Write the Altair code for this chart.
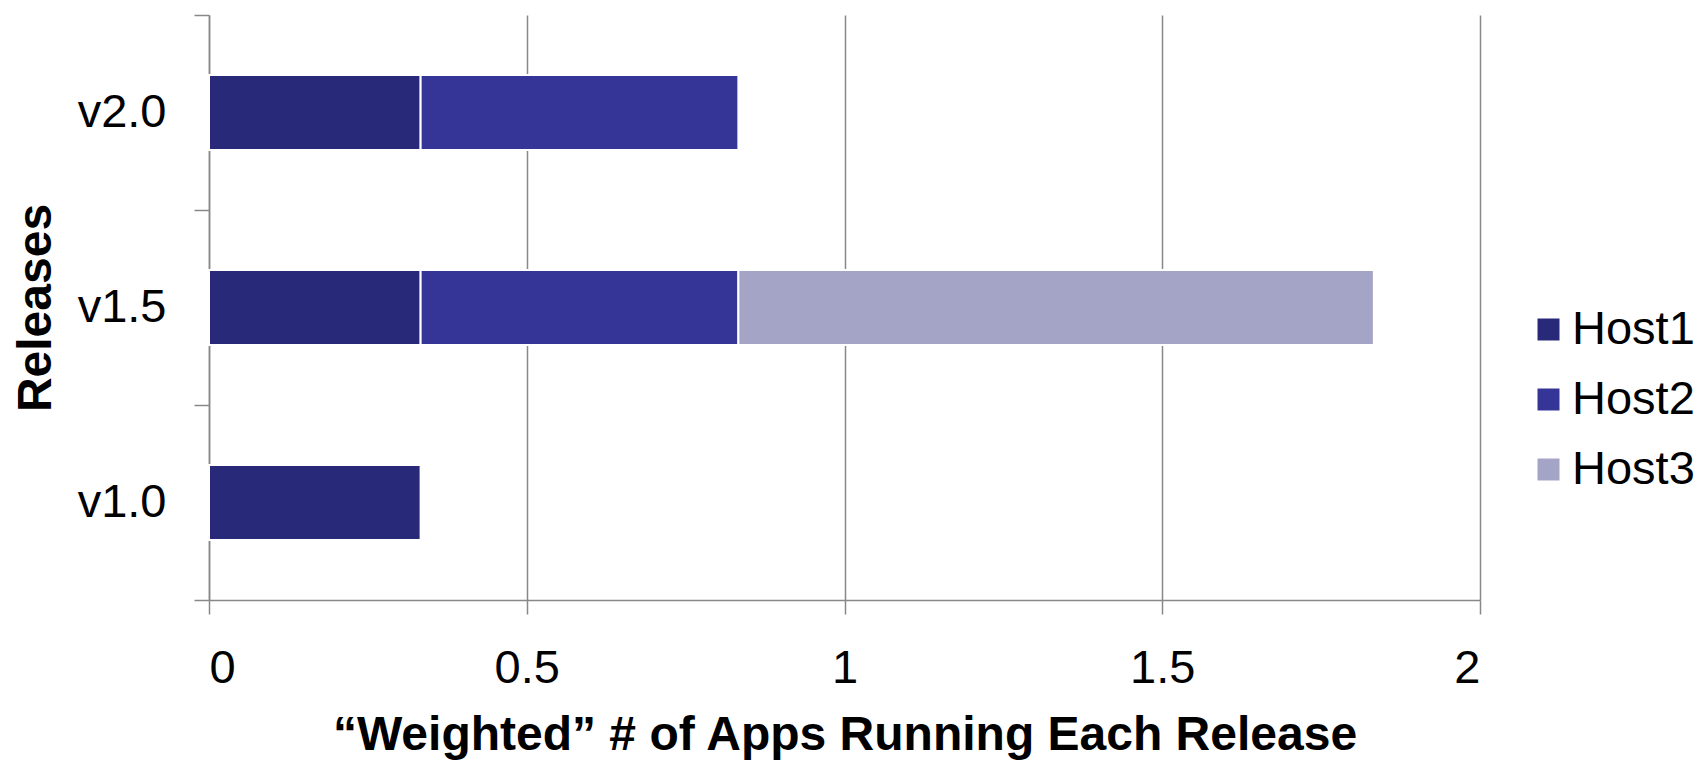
import altair as alt
import pandas as pd

releases = ["v2.0", "v1.5", "v1.0"]
hosts = ["Host1", "Host2", "Host3"]
host1 = [0.333, 0.333, 0.333]
host2 = [0.5, 0.5, 0.0]
host3 = [0.0, 1.0, 0.0]
colors = ["#29297A", "#353598", "#A4A4C6"]
x_ticks = [0, 0.5, 1, 1.5, 2]

rows = []
for i, r in enumerate(releases):
    for h, vals in zip(hosts, [host1, host2, host3]):
        if vals[i] > 0:
            rows.append({"Release": r, "Host": h, "Value": vals[i]})
df = pd.DataFrame(rows)

FONT = "Liberation Sans"

chart = alt.Chart(df).mark_bar(
    stroke="white", strokeWidth=2, height=alt.RelativeBandSize(0.385)
).encode(
    y=alt.Y(
        "Release:N",
        sort=releases,
        scale=alt.Scale(paddingInner=0, paddingOuter=0),
        axis=alt.Axis(
            title="Releases",
            titleFont=FONT,
            titleFontSize=48,
            titleFontWeight="bold",
            titleColor="black",
            titlePadding=17,
            labelFont=FONT,
            labelFontSize=47,
            labelColor="black",
            labelPadding=28,
            tickSize=15,
            tickColor="#888888",
            tickWidth=1.5,
            tickBand="extent",
            domainColor="#888888",
            domainWidth=1.5,
            grid=False,
        ),
    ),
    x=alt.X(
        "Value:Q",
        stack="zero",
        scale=alt.Scale(domain=[0, 2], nice=False),
        axis=alt.Axis(
            title="\u201cWeighted\u201d # of Apps Running Each Release",
            values=x_ticks,
            format="~g",
            titleFont=FONT,
            titleFontSize=48,
            titleFontWeight="bold",
            titleColor="black",
            titlePadding=20,
            labelFont=FONT,
            labelFontSize=47,
            labelColor="black",
            labelPadding=31,
            tickSize=14,
            tickColor="#888888",
            tickWidth=1.5,
            domainColor="#888888",
            domainWidth=1.5,
            grid=True,
            gridColor="#888888",
            gridWidth=1.5,
        ),
    ),
    color=alt.Color(
        "Host:N",
        scale=alt.Scale(domain=hosts, range=colors),
        legend=alt.Legend(
            title=None,
            orient="none",
            legendX=1316,
            legendY=291,
            symbolType="M-2,-2H2V2H-2Z",
            symbolSize=121,
            symbolStrokeWidth=0,
            symbolOffset=0,
            labelFont=FONT,
            labelFontSize=47,
            labelColor="black",
            labelOffset=0,
            rowPadding=22,
            padding=0,
        ),
    ),
    order=alt.Order("Host:N", sort="ascending"),
).properties(
    width=1271,
    height=585,
    autosize=alt.AutoSizeParams(type="none"),
    padding={"left": 201, "top": 7, "right": 217, "bottom": 163},
).configure_view(stroke=None)

chart.save("out.html", embed_options={"renderer": "svg", "actions": False})
